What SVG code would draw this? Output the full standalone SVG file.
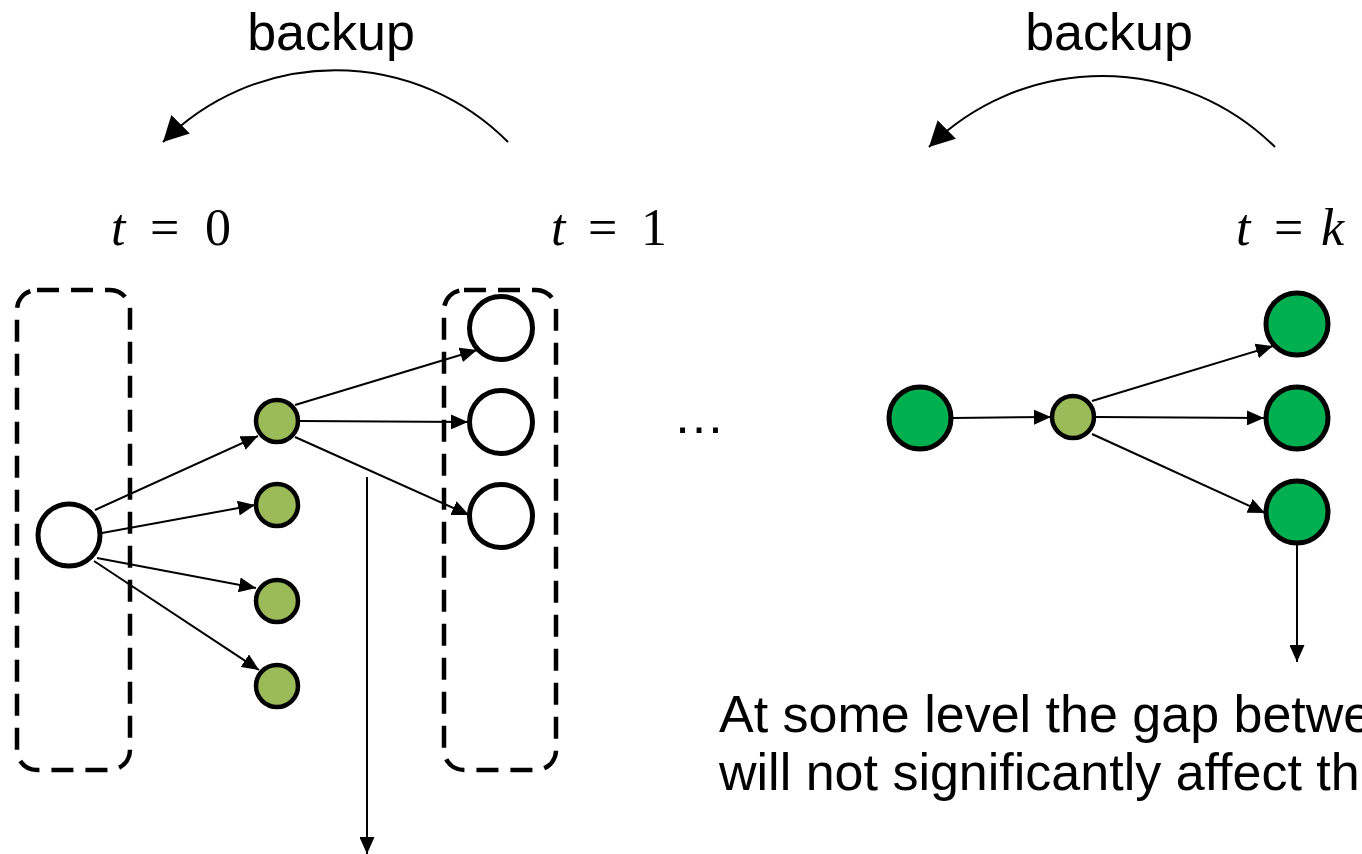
<svg xmlns="http://www.w3.org/2000/svg" width="1362" height="854" viewBox="0 0 1362 854">
  <style>
    .lbl { font-family: "Liberation Sans", Arial, sans-serif; font-size: 52px; fill: #000; }
    .math { font-family: "Liberation Serif", "Times New Roman", serif; font-size: 52px; fill: #000; }
    .it { font-style: italic; }
    .box { fill: none; stroke: #000; stroke-width: 4.5; stroke-dasharray: 22 12; }
    .white { fill: #fff; stroke: #000; stroke-width: 5; }
    .olive { fill: #9BBB59; stroke: #000; stroke-width: 4.5; }
    .green { fill: #00B050; stroke: #000; stroke-width: 5; }
    .edge { fill: none; stroke: #000; stroke-width: 2; marker-end: url(#arr); }
    .back { fill: none; stroke: #000; stroke-width: 2; marker-end: url(#arrBig); }
  </style>
  <defs>
    <marker id="arr" markerUnits="userSpaceOnUse" markerWidth="17" markerHeight="15" refX="17" refY="7.5" orient="auto">
      <path d="M0,0 L17,7.5 L0,15 z" fill="#000"/>
    </marker>
    <marker id="arrBig" markerUnits="userSpaceOnUse" markerWidth="25" markerHeight="26" refX="25" refY="13" orient="auto">
      <path d="M0,0 L25,13 L0,26 z" fill="#000"/>
    </marker>
  </defs>

  <g id="labels">
    <text class="lbl" x="331" y="50" text-anchor="middle">backup</text>
    <text class="lbl" x="1109" y="50" text-anchor="middle">backup</text>
    <text class="math" y="245"><tspan class="it" x="111">t</tspan><tspan x="150">=</tspan><tspan x="205">0</tspan></text>
    <text class="math" y="245"><tspan class="it" x="551">t</tspan><tspan x="588">=</tspan><tspan x="641">1</tspan></text>
    <text class="math" y="245"><tspan class="it" x="1236">t</tspan><tspan x="1274">=</tspan><tspan class="it" x="1321">k</tspan></text>
    <text class="lbl" x="699" y="433" text-anchor="middle">…</text>
    <text class="lbl" x="719" y="732">At some level the gap betwe</text>
    <text class="lbl" x="719" y="790">will not significantly affect th</text>
  </g>

  <g id="box-t0"><rect class="box" x="17" y="290" width="113" height="480" rx="20" ry="20"/></g>
  <g id="box-t1"><rect class="box" x="444" y="290" width="112" height="480" rx="20" ry="20"/></g>

  <g id="connectors">
    <path class="back" d="M508,142 A243,243 0 0 0 163,142"/>
    <path class="back" d="M1275,147 A246,246 0 0 0 929,147"/>
    <line class="edge" x1="95" y1="510" x2="258" y2="436"/>
    <line class="edge" x1="102" y1="533" x2="255" y2="505"/>
    <line class="edge" x1="97" y1="558" x2="256" y2="588"/>
    <line class="edge" x1="94" y1="561" x2="259" y2="670"/>
    <line class="edge" x1="295" y1="405" x2="477" y2="350"/>
    <line class="edge" x1="300" y1="421" x2="468" y2="422"/>
    <line class="edge" x1="295" y1="437" x2="469" y2="515"/>
    <line class="edge" x1="367" y1="477" x2="367" y2="854"/>
    <line class="edge" x1="953" y1="418" x2="1051" y2="417"/>
    <line class="edge" x1="1092" y1="401" x2="1273" y2="346"/>
    <line class="edge" x1="1096" y1="417" x2="1264" y2="418"/>
    <line class="edge" x1="1092" y1="434" x2="1265" y2="513"/>
    <line class="edge" x1="1297" y1="538" x2="1297" y2="662"/>
  </g>

  <g id="root"><circle class="white" cx="69" cy="535" r="31"/></g>
  <g id="a1"><circle class="olive" cx="277" cy="421" r="21"/></g>
  <g id="a2"><circle class="olive" cx="277" cy="505" r="21"/></g>
  <g id="a3"><circle class="olive" cx="277" cy="601" r="21"/></g>
  <g id="a4"><circle class="olive" cx="277" cy="686" r="21"/></g>
  <g id="s1"><circle class="white" cx="501" cy="328" r="31.5"/></g>
  <g id="s2"><circle class="white" cx="501" cy="422" r="31.5"/></g>
  <g id="s3"><circle class="white" cx="501" cy="516" r="31.5"/></g>

  <g id="k-root"><circle class="green" cx="920" cy="418" r="31"/></g>
  <g id="k-action"><circle class="olive" cx="1073" cy="417" r="21"/></g>
  <g id="k1"><circle class="green" cx="1297" cy="324" r="31"/></g>
  <g id="k2"><circle class="green" cx="1297" cy="418" r="31"/></g>
  <g id="k3"><circle class="green" cx="1297" cy="512" r="31"/></g>
</svg>
